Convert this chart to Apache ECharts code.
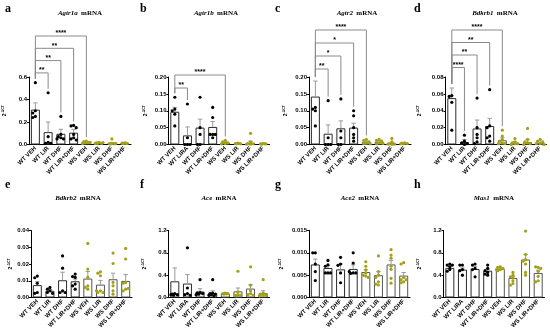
<!DOCTYPE html>
<html><head><meta charset="utf-8">
<script src="https://cdn.jsdelivr.net/npm/echarts@6/dist/echarts.min.js"></script>
<style>html,body{margin:0;padding:0;background:#fff}#c{width:550px;height:333px}</style>
</head><body><div id="c"></div>
<script>
// ---------- categories ----------
const groupsLIR  = ['WT VEH','WT LIR','WT DHF','WT LIR+DHF','WS VEH','WS LIR','WS DHF','WS LIR+DHF'];
const groupsLIRA = ['WT VEH','WT LIRA','WT DHF','WT LIR+DHF','WS VEH','WS LIR','WS DHF','WS LIR+DHF'];

// ---------- a: Agtr1a ----------
const aMean = [0.31, 0.11, 0.095, 0.105, 0.02, 0.015, 0.012, 0.012];
const aSem  = [0.06, 0.09, 0.04, 0.03, 0.005, 0.003, 0.006, 0.002];
const aPoints = [[0.55,0.30,0.28,0.25,0.24],[0.46,0.07,0.02,0.01,0.01],[0.25,0.09,0.07,0.06,0.05,0.05],
  [0.17,0.165,0.15,0.09,0.06,0.05,0.04],[0.03,0.025,0.02,0.015,0.01,0.02,0.02],[0.02,0.015,0.01,0.012,0.01,0.018],
  [0.05,0.01,0.008,0.006,0.01,0.005],[0.015,0.012,0.01,0.01,0.012]];
const aTicks = ['0.0','0.2','0.4','0.6'];
const aBrackets = [[0,4,'****'],[0,3,'**'],[0,2,'**'],[0,1,'**']];

// ---------- b: Agtr1b ----------
const bMean = [0.097, 0.027, 0.05, 0.052, 0.006, 0.003, 0.005, 0.002];
const bSem  = [0.013, 0.025, 0.025, 0.016, 0.004, 0.001, 0.005, 0.001];
const bPoints = [[0.14,0.105,0.10,0.09,0.055],[0.12,0.02,0.0,0.0,0.0],[0.14,0.05,0.03,0.0,0.0],
  [0.11,0.08,0.03,0.03,0.02,0.03],[0.012,0.008,0.005,0.003,0.002,0.006],[0.004,0.003,0.002,0.003,0.002],
  [0.033,0.008,0.003,0.002,0.001,0.001],[0.003,0.002,0.002,0.001,0.002]];
const bTicks = ['0.00','0.05','0.10','0.15','0.20'];
const bBrackets = [[0,4,'****'],[0,1,'**']];

// ---------- c: Agtr2 ----------
const cMean = [0.142, 0.032, 0.048, 0.05, 0.007, 0.008, 0.004, 0.003];
const cSem  = [0.046, 0.026, 0.022, 0.013, 0.003, 0.004, 0.003, 0.001];
const cPoints = [[0.11,0.105,0.10,0.055],[0.13,0.02,0.0,0.0,0.0],[0.135,0.04,0.02,0.0,0.0],
  [0.10,0.085,0.05,0.03,0.02,0.01],[0.015,0.012,0.008,0.004,0.003,0.002],[0.015,0.012,0.01,0.005,0.002,0.003],
  [0.018,0.008,0.003,0.001,0.0,0.001],[0.005,0.004,0.003,0.002,0.002]];
const cTicks = ['0.00','0.05','0.10','0.15','0.20'];
const cBrackets = [[0,4,'****'],[0,3,'*'],[0,2,'*'],[0,1,'**']];

// ---------- d: Bdkrb1 ----------
const dMean = [0.055, 0.003, 0.019, 0.022, 0.005, 0.002, 0.003, 0.002];
const dSem  = [0.012, 0.003, 0.010, 0.009, 0.003, 0.001, 0.003, 0.001];
const dPoints = [[0.058,0.057,0.05,0.017],[0.011,0.004,0.002,0.001,0.0],[0.055,0.02,0.012,0.008,0.003,0.001],
  [0.065,0.022,0.02,0.01,0.008,0.004],[0.017,0.01,0.006,0.004,0.002,0.001,0.001],[0.007,0.003,0.002,0.001,0.001,0.0],
  [0.019,0.006,0.003,0.002,0.001,0.0],[0.006,0.004,0.003,0.001,0.001,0.0]];
const dTicks = ['0.00','0.02','0.04','0.06','0.08'];
const dBrackets = [[0,4,'****'],[0,3,'**'],[0,2,'**'],[0,1,'****']];

// ---------- e: Bdkrb2 ----------
const eMean = [0.0074, 0.0040, 0.0103, 0.0097, 0.0113, 0.0077, 0.0109, 0.0099];
const eSem  = [0.0021, 0.0008, 0.0048, 0.0013, 0.0042, 0.0025, 0.0036, 0.0038];
const ePoints = [[0.0128,0.0118,0.0085,0.003,0.0025],[0.006,0.005,0.004,0.003,0.0025],[0.0248,0.0175,0.004,0.003,0.003],
  [0.014,0.0125,0.012,0.008,0.007,0.005],[0.0323,0.017,0.012,0.007,0.005,0.006],[0.0153,0.0145,0.013,0.004,0.003,0.003,0.004],
  [0.0265,0.0203,0.009,0.007,0.004,0.002],[0.0293,0.023,0.009,0.0085,0.005,0.004,0.0055]];
const eTicks = ['0.00','0.01','0.02','0.03','0.04'];

// ---------- f: Ace ----------
const fMean = [0.29, 0.25, 0.107, 0.08, 0.07, 0.11, 0.16, 0.08];
const fSem  = [0.24, 0.16, 0.05, 0.04, 0.01, 0.06, 0.07, 0.04];
const fPoints = [[0.07,0.06,0.05,0.04,0.05],[0.89,0.17,0.07,0.05,0.04],[0.32,0.09,0.08,0.07,0.06,0.05],
  [0.32,0.08,0.07,0.06,0.05,0.04,0.03],[0.08,0.07,0.07,0.06,0.065],[0.47,0.10,0.05,0.04,0.04,0.03],
  [0.55,0.22,0.12,0.07,0.05,0.04],[0.32,0.08,0.06,0.05,0.04,0.03]];
const fTicks = ['0.0','0.4','0.8','1.2'];

// ---------- g: Ace2 ----------
const gMean = [0.0074, 0.0066, 0.0063, 0.0064, 0.0057, 0.0050, 0.0074, 0.0049];
const gSem  = [0.0012, 0.0006, 0.0012, 0.0009, 0.0005, 0.0008, 0.0009, 0.0007];
const gPoints = [[0.0100,0.0100,0.0075,0.0058,0.0038],[0.0083,0.0073,0.007,0.0055,0.0055,0.0055],[0.009,0.0075,0.0072,0.0055,0.0033],
  [0.0100,0.0077,0.0055,0.0054,0.0055,0.0058],[0.0080,0.007,0.0062,0.0055,0.005,0.0048,0.0045],[0.0093,0.0058,0.005,0.0045,0.0035,0.003,0.0028],
  [0.0107,0.0095,0.0088,0.007,0.0063,0.0043,0.0032],[0.0078,0.0075,0.0045,0.004,0.0035,0.0033,0.004]];
const gTicks = ['0.000','0.005','0.010','0.015'];

// ---------- h: Mas1 ----------
const hMean = [0.53, 0.50, 0.51, 0.48, 0.51, 0.35, 0.68, 0.44];
const hSem  = [0.03, 0.03, 0.05, 0.03, 0.02, 0.03, 0.09, 0.05];
const hPoints = [[0.60,0.58,0.55,0.50,0.47,0.58],[0.58,0.58,0.50,0.48,0.40],[0.60,0.58,0.52,0.50,0.37],
  [0.58,0.52,0.48,0.45,0.42,0.40],[0.55,0.54,0.52,0.50,0.48,0.50],[0.45,0.40,0.37,0.35,0.30,0.25,0.22],
  [1.19,0.77,0.68,0.65,0.60,0.45,0.40],[0.54,0.55,0.52,0.47,0.38,0.30,0.28]];
const hTicks = ['0.0','0.4','0.8','1.2'];

const panels = [
  {letter:'a', gene:'Agtr1a', cats:groupsLIR,  mean:aMean, sem:aSem, pts:aPoints, ticks:aTicks, brackets:aBrackets},
  {letter:'b', gene:'Agtr1b', cats:groupsLIRA, mean:bMean, sem:bSem, pts:bPoints, ticks:bTicks, brackets:bBrackets},
  {letter:'c', gene:'Agtr2',  cats:groupsLIR,  mean:cMean, sem:cSem, pts:cPoints, ticks:cTicks, brackets:cBrackets},
  {letter:'d', gene:'Bdkrb1', cats:groupsLIR,  mean:dMean, sem:dSem, pts:dPoints, ticks:dTicks, brackets:dBrackets},
  {letter:'e', gene:'Bdkrb2', cats:groupsLIR,  mean:eMean, sem:eSem, pts:ePoints, ticks:eTicks, brackets:[]},
  {letter:'f', gene:'Ace',    cats:groupsLIRA, mean:fMean, sem:fSem, pts:fPoints, ticks:fTicks, brackets:[]},
  {letter:'g', gene:'Ace2',   cats:groupsLIR,  mean:gMean, sem:gSem, pts:gPoints, ticks:gTicks, brackets:[]},
  {letter:'h', gene:'Mas1',   cats:groupsLIRA, mean:hMean, sem:hSem, pts:hPoints, ticks:hTicks, brackets:[]}
];

// ---------- layout (pixels) ----------
const layout = [
  {left:29,    top:77,    width:102, height:67.5, gap:21, lx:5,   ly:8.5,   tx:80,  ty:13,  brTop:36, brStep:12.3},
  {left:168.5, top:77,    width:101, height:67.5, gap:19, lx:140, ly:8.5,   tx:216, ty:13,  brTop:75, brStep:13},
  {left:309,   top:77,    width:102, height:67.5, gap:20, lx:275, ly:8.5,   tx:357, ty:13,  brTop:30, brStep:13},
  {left:445.5, top:77,    width:101, height:67.5, gap:22, lx:414, ly:8.5,   tx:495, ty:13,  brTop:30, brStep:12.5},
  {left:31,    top:230.5, width:101, height:67,   gap:16, lx:5,   ly:184.5, tx:78,  ty:198},
  {left:168.5, top:230.5, width:101, height:67,   gap:20, lx:140, ly:184.5, tx:219, ty:198},
  {left:309,   top:230.5, width:101, height:67,   gap:24, lx:275, ly:184.5, tx:360, ty:198},
  {left:443.5, top:230.5, width:101, height:67,   gap:20, lx:414, ly:184.5, tx:494, ty:198}
];

const WT_DOT = '#000000', WS_DOT = '#a3a118';
const BAR_WT = '#2b2b2b', BAR_WS = '#555555';
const ERR = '#9a9a9a', BRK = '#8a8a8a';
const SANS = 'Liberation Sans', SERIF = 'Liberation Serif';

const grid = [], xAxis = [], yAxis = [], series = [], graphic = [];

panels.forEach((p, i) => {
  const L = layout[i];
  const n = p.ticks.length - 1;
  const maxV = parseFloat(p.ticks[n]);
  const interval = parseFloat(p.ticks[1]) - parseFloat(p.ticks[0]);
  grid.push({left:L.left, top:L.top, width:L.width, height:L.height, containLabel:false});
  xAxis.push({
    type:'category', gridIndex:i, data:p.cats,
    axisLine:{lineStyle:{color:'#000', width:1}},
    axisTick:{alignWithLabel:true, length:2, lineStyle:{color:'#000'}},
    axisLabel:{rotate:45, interval:0, fontSize:6, fontWeight:'bold', color:'#000', fontFamily:SANS, margin:3}
  });
  yAxis.push({
    type:'value', gridIndex:i, min:0, max:maxV, interval:interval,
    name:'{a|2}{b|-ΔCT}', nameLocation:'middle', nameGap:L.gap, nameRotate:90,
    nameTextStyle:{color:'#000', fontFamily:SANS, rich:{a:{fontSize:5, fontWeight:'bold', fontFamily:SANS}, b:{fontSize:3.5, fontWeight:'bold', fontFamily:SANS, padding:[0,0,3,0]}}},
    splitLine:{show:false},
    axisLine:{show:true, lineStyle:{color:'#000', width:1}},
    axisTick:{show:true, length:2, lineStyle:{color:'#000'}},
    axisLabel:{fontSize:6, fontWeight:'bold', color:'#000', fontFamily:SANS, margin:2,
      formatter:(v, idx) => p.ticks[Math.round(v / interval)] ?? ''}
  });

  // bars
  series.push({
    type:'bar', xAxisIndex:i, yAxisIndex:i, barWidth:9, silent:true, z:2,
    data:p.mean.map((m, g) => ({value:m, itemStyle:{color:'#fff', borderColor: g < 4 ? BAR_WT : BAR_WS, borderWidth:1}}))
  });

  // error bars (mean -> mean + sem)
  series.push({
    type:'custom', xAxisIndex:i, yAxisIndex:i, z:3, silent:true, clip:false,
    data:p.mean.map((m, g) => [g, m, p.sem[g]]),
    renderItem:(params, api) => {
      const g = api.value(0), m = api.value(1), s = api.value(2);
      const b = api.coord([g, m]), t = api.coord([g, m + s]);
      return {type:'group', children:[
        {type:'line', shape:{x1:b[0], y1:b[1], x2:t[0], y2:t[1]}, style:{stroke:ERR, lineWidth:1}},
        {type:'line', shape:{x1:t[0]-2.2, y1:t[1], x2:t[0]+2.2, y2:t[1]}, style:{stroke:ERR, lineWidth:1}}
      ]};
    }
  });

  // individual points, arranged as a small swarm
  const ptData = [];
  p.pts.forEach((arr, g) => arr.forEach((v, j) => ptData.push([g, v, j])));
  const cache = {};
  series.push({
    type:'custom', xAxisIndex:i, yAxisIndex:i, z:4, silent:true, clip:false,
    data:ptData,
    renderItem:(params, api) => {
      const g = api.value(0), j = api.value(2);
      const key = g;
      if (!cache[key]) {
        const cand = [0, -2.6, 2.6, -1.3, 1.3, -3.9, 3.9];
        const placed = [];
        p.pts[g].forEach(v => {
          const c = api.coord([g, v]);
          let best = 0, bestD = -1;
          for (const o of cand) {
            let dmin = 99;
            placed.forEach(q => { const d = Math.hypot(o - q.o, c[1] - q.y); if (d < dmin) dmin = d; });
            if (dmin >= 2.6) { best = o; bestD = 99; break; }
            if (dmin > bestD) { bestD = dmin; best = o; }
          }
          placed.push({o:best, y:c[1]});
        });
        cache[key] = placed;
      }
      const c = api.coord([g, api.value(1)]);
      return {type:'circle', shape:{cx:c[0] + cache[key][j].o, cy:c[1], r:1.6},
        style:{fill: g < 4 ? WT_DOT : WS_DOT}};
    }
  });

  // significance brackets
  if (p.brackets.length) {
    const groupMax = g => Math.max(p.mean[g] + p.sem[g], ...p.pts[g]);
    series.push({
      type:'custom', xAxisIndex:i, yAxisIndex:i, z:5, silent:true, clip:false,
      data:p.brackets.map((b, k) => [b[0], 0, b[1], k]),
      renderItem:(params, api) => {
        const from = api.value(0), to = api.value(2), k = api.value(3);
        const x1 = api.coord([from, 0])[0], x2 = api.coord([to, 0])[0];
        const yLine = L.brTop + k * L.brStep;
        const yL = api.coord([from, groupMax(from)])[1] - 4;
        const yR = api.coord([to, groupMax(to)])[1] - 4;
        return {type:'group', children:[
          {type:'polyline', shape:{points:[[x1, yL], [x1, yLine], [x2, yLine], [x2, yR]]},
            style:{stroke:BRK, lineWidth:1, fill:null}},
          {type:'text', x:(x1 + x2) / 2, y:yLine + 1,
            style:{text:p.brackets[k][2], fill:'#000', font:'bold 7px ' + SANS, align:'center', verticalAlign:'bottom'}}
        ]};
      }
    });
  }

  // panel letter and title
  graphic.push({type:'text', x:L.lx, y:L.ly, style:{text:p.letter, fill:'#000', font:'bold 12px ' + SERIF, verticalAlign:'middle'}});
  graphic.push({type:'text', x:L.tx, y:L.ty, style:{
    text:'{i|' + p.gene + '} {b|mRNA}', align:'center', verticalAlign:'middle',
    rich:{i:{fontSize:7, fontStyle:'italic', fontWeight:'bold', fontFamily:SERIF, fill:'#000'},
          b:{fontSize:7, fontWeight:'bold', fontFamily:SERIF, fill:'#000'}}
  }});
});

const chart = echarts.init(document.getElementById('c'), null, {renderer:'canvas'});
chart.setOption({animation:false, backgroundColor:'#fff', grid, xAxis, yAxis, series, graphic});
</script>
</body></html>
